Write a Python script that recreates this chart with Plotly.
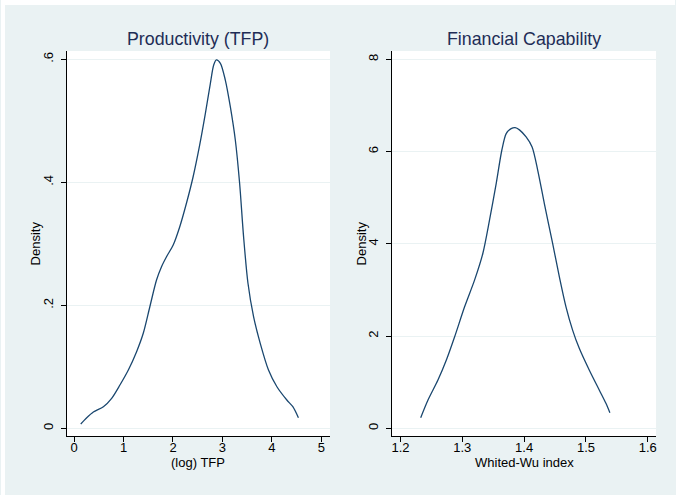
import plotly.graph_objects as go

# ---- data ----
tfp_x = [0.135, 0.256, 0.39, 0.593, 0.76, 0.927, 1.097, 1.264, 1.399, 1.532, 1.667, 1.768,
         1.869, 2.004, 2.137, 2.272, 2.407, 2.54, 2.655, 2.756, 2.823, 2.877, 2.958, 3.058,
         3.159, 3.26, 3.347, 3.427, 3.516, 3.629, 3.764, 3.931, 4.101, 4.302, 4.423, 4.536]
tfp_y = [0.007, 0.0172, 0.0265, 0.0351, 0.0488, 0.0704, 0.0948, 0.1246, 0.1545, 0.1977, 0.2411, 0.2628,
         0.279, 0.298, 0.3278, 0.3659, 0.409, 0.4607, 0.512, 0.561, 0.5907, 0.5989, 0.5935, 0.5663,
         0.523, 0.4688, 0.3984, 0.3116, 0.2358, 0.1815, 0.1382, 0.0948, 0.0676, 0.046, 0.0351, 0.0172]

ww_x = [1.2327, 1.2445, 1.2606, 1.2742, 1.2876, 1.3037, 1.3198, 1.3332, 1.344, 1.3548, 1.3639, 1.371,
        1.379, 1.3855, 1.3924, 1.4032, 1.4129, 1.422, 1.4327, 1.4461, 1.457, 1.4677, 1.4784, 1.4892,
        1.5053, 1.5215, 1.5323, 1.5387]
ww_y = [0.23, 0.613, 1.046, 1.479, 1.984, 2.634, 3.212, 3.79, 4.512, 5.306, 6.028, 6.389,
        6.498, 6.519, 6.47, 6.316, 6.099, 5.594, 4.873, 4.007, 3.284, 2.634, 2.129, 1.733,
        1.263, 0.83, 0.541, 0.338]

titles = ["Productivity (TFP)", "Financial Capability"]
x_titles = ["(log) TFP", "Whited-Wu index"]
y_title = "Density"

tfp_xticks = [0, 1, 2, 3, 4, 5]
tfp_xtext = ["0", "1", "2", "3", "4", "5"]
tfp_yticks = [0, 0.2, 0.4, 0.6]
tfp_ytext = ["0", ".2", ".4", ".6"]
ww_xticks = [1.2, 1.3, 1.4, 1.5, 1.6]
ww_xtext = ["1.2", "1.3", "1.4", "1.5", "1.6"]
ww_yticks = [0, 2, 4, 6, 8]
ww_ytext = ["0", "2", "4", "6", "8"]

# ---- style ----
W, H = 676, 495
BG = "#EAF2F3"
LINE = "#1A476F"
TITLE_C = "#1E2D56"
FONT = "Liberation Sans, Arial, sans-serif"

def px_x(p):
    return p / W

def px_y(p):
    return 1 - p / H

fig = go.Figure()
fig.add_trace(go.Scatter(x=tfp_x, y=tfp_y, mode="lines", line=dict(color=LINE, width=1.3, shape="spline", smoothing=0.8),
                         xaxis="x", yaxis="y", showlegend=False, hoverinfo="skip"))
fig.add_trace(go.Scatter(x=ww_x, y=ww_y, mode="lines", line=dict(color=LINE, width=1.3, shape="spline", smoothing=0.8),
                         xaxis="x2", yaxis="y2", showlegend=False, hoverinfo="skip"))

dom_l = [px_x(66), px_x(330)]
dom_r = [px_x(392.3), px_x(657)]
dom_y = [px_y(436), px_y(51)]

common_x = dict(showline=True, linecolor="black", linewidth=1.2, ticks="outside", ticklen=5,
                tickcolor="black", tickwidth=1, showgrid=False, zeroline=False,
                ticklabelstandoff=-6,
                tickfont=dict(family=FONT, size=13, color="black"), fixedrange=True)
common_y = dict(showline=True, linecolor="black", linewidth=1.2, ticks="outside", ticklen=5,
                tickcolor="black", tickwidth=1, showgrid=True, gridcolor=BG, gridwidth=1,
                zeroline=False, tickangle=-90, ticklabelstandoff=3,
                tickfont=dict(family=FONT, size=13, color="black"), fixedrange=True)

fig.update_layout(
    width=W, height=H,
    margin=dict(l=0, r=0, t=0, b=0),
    paper_bgcolor=BG, plot_bgcolor="white",
    font=dict(family=FONT, color="black"),
    xaxis=dict(domain=dom_l, range=[-0.147, 5.175], tickvals=tfp_xticks, ticktext=tfp_xtext,
               anchor="y", **common_x),
    yaxis=dict(domain=dom_y, range=[-0.0125, 0.6135], tickvals=tfp_yticks, ticktext=tfp_ytext,
               anchor="x", **common_y),
    xaxis2=dict(domain=dom_r, range=[1.1865, 1.6134], tickvals=ww_xticks, ticktext=ww_xtext,
                anchor="y2", **common_x),
    yaxis2=dict(domain=dom_y, range=[-0.167, 8.18], tickvals=ww_yticks, ticktext=ww_ytext,
                anchor="x2", **common_y),
)

# white border strips on the top and left edges
fig.add_shape(type="rect", xref="paper", yref="paper", x0=0, x1=1, y0=px_y(5), y1=1,
              fillcolor="white", line=dict(width=0), layer="above")
fig.add_shape(type="rect", xref="paper", yref="paper", x0=0, x1=px_x(4), y0=0, y1=1,
              fillcolor="white", line=dict(width=0), layer="above")

# subplot titles
centers = [(66 + 330) / 2, (392.3 + 657) / 2]
for cx, t in zip(centers, titles):
    fig.add_annotation(text=t, xref="paper", yref="paper", x=px_x(cx), y=px_y(39),
                       xanchor="center", yanchor="middle", showarrow=False,
                       font=dict(family=FONT, size=17.8, color=TITLE_C))
# x axis titles
for cx, t in zip(centers, x_titles):
    fig.add_annotation(text=t, xref="paper", yref="paper", x=px_x(cx), y=px_y(462),
                       xanchor="center", yanchor="middle", showarrow=False,
                       font=dict(family=FONT, size=13, color="black"))
# y axis titles
for cx in [35, 362]:
    fig.add_annotation(text=y_title, xref="paper", yref="paper", x=px_x(cx), y=px_y(243.5),
                       xanchor="center", yanchor="middle", showarrow=False, textangle=-90,
                       font=dict(family=FONT, size=13, color="black"))

fig.write_html("out.html", config={"displayModeBar": False},
               post_script="document.body.style.margin='0px';document.body.style.padding='0px';")
